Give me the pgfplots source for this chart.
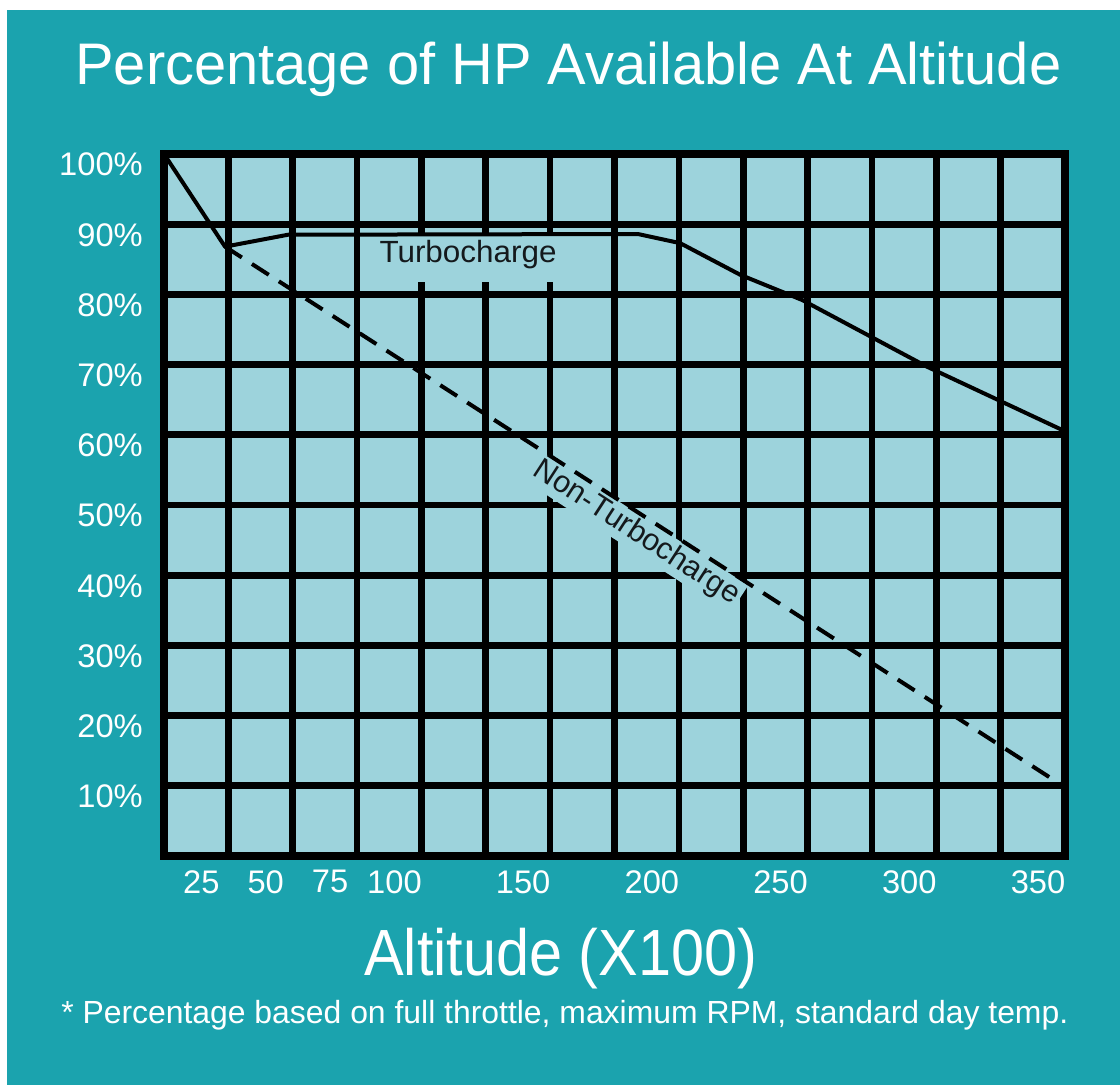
\documentclass[border=0pt]{standalone}
\usepackage{fontspec}
\setmainfont{Liberation Sans}
\usepackage{graphicx}
\usepackage{pgfplots}
\pgfplotsset{compat=1.18}
\definecolor{tealbg}{RGB}{27,163,174}
\definecolor{lb}{RGB}{157,211,220}
\definecolor{ink}{RGB}{20,25,28}
\begin{document}
\begin{tikzpicture}
\fill[white] (0,0) rectangle (840pt,813.75pt);
\fill[tealbg] (5.25pt,0) rectangle (840pt,806.25pt);
\begin{axis}[
  at={(123pt,171.75pt)}, anchor=south west,
  scale only axis, width=675.75pt, height=526.5pt,
  xmin=0, xmax=350, ymin=0, ymax=100,
  axis background/.style={fill=lb},
  axis line style={line width=6.5pt, black, line join=miter, line cap=rect},
  grid=major, grid style={line width=5pt, black},
  major tick length=0pt,
  xtick={25,50,...,350},
  xticklabels={25,50,75,100,,150,,200,,250,,300,,350},
  ytick={10,20,...,100},
  yticklabels={10\%,20\%,30\%,40\%,50\%,60\%,70\%,80\%,90\%,100\%},
  xticklabel style={anchor=north, inner sep=0pt, xshift=-20.25pt, yshift=-10.5pt, text=white, font=\fontsize{24.5pt}{24.5pt}\selectfont},
  yticklabel style={anchor=east, inner sep=0pt, xshift=-15.75pt, yshift=-8pt, text=white, font=\fontsize{24.5pt}{24.5pt}\selectfont},
]
\fill[lb] (axis cs:82.4,81.8) rectangle (axis cs:154.6,88.3);
\node[anchor=base, text=ink, inner sep=0pt] at (axis cs:118.1,84.6)
  {\resizebox{132.75pt}{\height}{\fontsize{23pt}{23pt}\selectfont Turbocharge}};
\node[rotate=-33, fill=lb, inner sep=2pt, text=ink, font=\fontsize{23pt}{23pt}\selectfont]
  at (axis cs:183.5,46.0) {Non-Turbocharge};
\addplot[black, line width=3pt, line join=round] coordinates {
  (0,100) (23.7,86.8) (48.2,88.5) (184.1,88.6) (200.5,87.3)
  (223.8,82.8) (247.9,79.2) (296.4,69.7) (350,60.5)};
\addplot[black, line width=3pt, dash pattern=on 15pt off 9pt] coordinates {
  (23.7,86.8) (350,9.8)};
\end{axis}
\node[anchor=base west, inner sep=0pt, text=white] at (56.25pt,750pt)
  {\resizebox{739.5pt}{\height}{\fontsize{44pt}{44pt}\selectfont Percentage of HP Available At Altitude}};
\node[anchor=base west, inner sep=0pt, text=white] at (273pt,82.5pt)
  {\resizebox{294.75pt}{\height}{\fontsize{49pt}{49pt}\selectfont Altitude (X100)}};
\node[anchor=base west, inner sep=0pt, text=white] at (45.75pt,46.5pt)
  {\resizebox{755.25pt}{\height}{\fontsize{24pt}{24pt}\selectfont * Percentage based on full throttle, maximum RPM, standard day temp.}};
\end{tikzpicture}
\end{document}
